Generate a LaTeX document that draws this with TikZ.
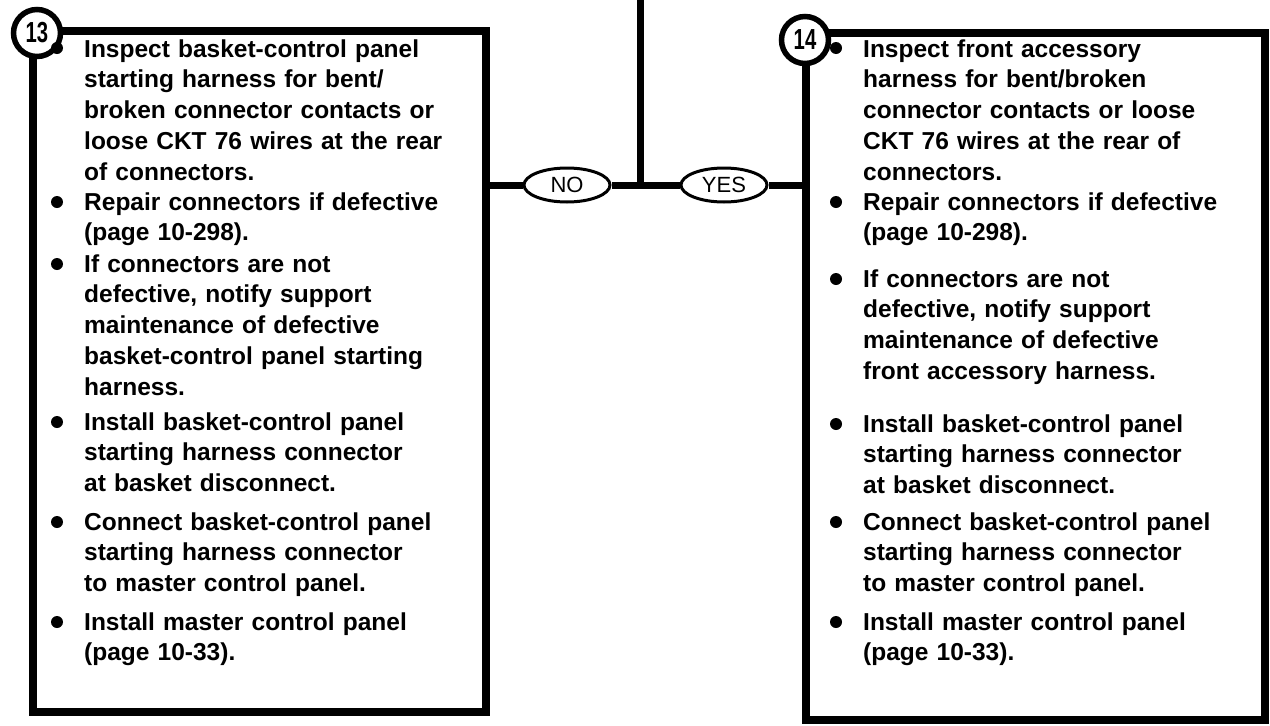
\documentclass[tikz,border=0pt]{standalone}
\usepackage{fontspec}
\setmainfont{Liberation Sans}
\usetikzlibrary{shapes.geometric}
\tikzset{
  panel/.style={draw, line width=8pt, minimum width=#1, inner sep=0pt},
  numcirc/.style={circle, draw, fill=white, line width=5.5pt, minimum size=47pt, inner sep=0pt,
    font=\bfseries\fontsize{29}{29}\selectfont},
  itemtext/.style={anchor=base west, inner sep=0pt, text width=400pt, align=left,
    font=\bfseries\fontsize{24.5}{30.8}\selectfont},
  dot/.style={circle, fill=black, minimum size=12pt, inner sep=0pt},
  answer/.style={ellipse, draw, fill=white, line width=3pt, minimum width=86pt, minimum height=34pt,
    inner sep=0pt, font=\fontsize{22}{22}\selectfont},
  wire/.style={line width=7pt}
}
\begin{document}
\begin{tikzpicture}[x=1pt, y=-1pt]
\useasboundingbox[fill=white] (0,0) rectangle (1270,726);
% boxes
\node[panel=453pt, minimum height=681pt] (b13) at (259.5,371.5) {};
\node[panel=459pt, minimum height=687pt] (b14) at (1035.5,376.5) {};
% connectors
\coordinate (top) at (640,0);
\coordinate (j) at (640,185);
\node[answer] (no) at (567,185) {NO};
\node[answer] (yes) at (724,185) {YES};
\draw[wire] (top) -- (j);
\draw[wire] (b13.east |- j) -- (no.west);
\draw[wire] (no.east) -- (j) -- (yes.west);
\draw[wire] (yes.east) -- (b14.west |- j);
% numbers
\node[numcirc] (n13) at (37,33) {\scalebox{0.7}[1]{13}};
\node[numcirc] (n14) at (805,40) {\scalebox{0.7}[1]{14}};
% left items
\node[dot] (l1d) at (57,48) {};
\node[itemtext] (l1) at (84,57) {Inspect basket-control panel\\ starting harness for bent/\\ broken connector contacts or\\ loose CKT 76 wires at the rear\\ of connectors.};
\node[dot] (l2d) at (57,202) {};
\node[itemtext] (l2) at (84,210) {Repair connectors if defective\\ (page 10-298).};
\node[dot] (l3d) at (57,264) {};
\node[itemtext] (l3) at (84,272) {If connectors are not\\ defective, notify support\\ maintenance of defective\\ basket-control panel starting\\ harness.};
\node[dot] (l4d) at (57,422) {};
\node[itemtext] (l4) at (84,430) {Install basket-control panel\\ starting harness connector\\ at basket disconnect.};
\node[dot] (l5d) at (57,522) {};
\node[itemtext] (l5) at (84,530) {Connect basket-control panel\\ starting harness connector\\ to master control panel.};
\node[dot] (l6d) at (57,622) {};
\node[itemtext] (l6) at (84,630) {Install master control panel\\ (page 10-33).};
% right items
\node[dot] (r1d) at (836,48) {};
\node[itemtext] (r1) at (863,57) {Inspect front accessory\\ harness for bent/broken\\ connector contacts or loose\\ CKT 76 wires at the rear of\\ connectors.};
\node[dot] (r2d) at (836,202) {};
\node[itemtext] (r2) at (863,210) {Repair connectors if defective\\ (page 10-298).};
\node[dot] (r3d) at (836,279) {};
\node[itemtext] (r3) at (863,287) {If connectors are not\\ defective, notify support\\ maintenance of defective\\ front accessory harness.};
\node[dot] (r4d) at (836,424) {};
\node[itemtext] (r4) at (863,432) {Install basket-control panel\\ starting harness connector\\ at basket disconnect.};
\node[dot] (r5d) at (836,522) {};
\node[itemtext] (r5) at (863,530) {Connect basket-control panel\\ starting harness connector\\ to master control panel.};
\node[dot] (r6d) at (836,622) {};
\node[itemtext] (r6) at (863,630) {Install master control panel\\ (page 10-33).};
\end{tikzpicture}
\end{document}
